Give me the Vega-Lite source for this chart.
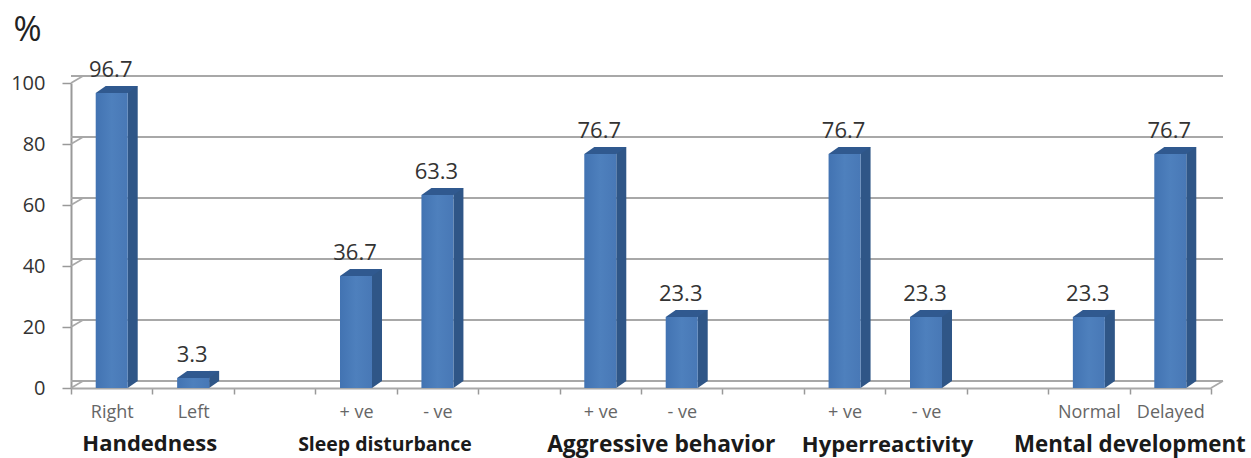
{
"$schema":"https://vega.github.io/schema/vega-lite/v6.json",
"width":1140,"height":305,
"autosize":{"type":"none"},
"padding":{"left":71,"top":83,"right":40,"bottom":70},
"background":"white",
"config":{"view":{"stroke":null},"font":"Open Sans"},
"datasets":{
"bars":[
{"slot":"Handedness|Right","value":96.7},
{"slot":"Handedness|Left","value":3.3},
{"slot":"Sleep disturbance|+ ve","value":36.7},
{"slot":"Sleep disturbance|- ve","value":63.3},
{"slot":"Aggressive behavior|+ ve","value":76.7},
{"slot":"Aggressive behavior|- ve","value":23.3},
{"slot":"Hyperreactivity|+ ve","value":76.7},
{"slot":"Hyperreactivity|- ve","value":23.3},
{"slot":"Mental development|Normal","value":23.3},
{"slot":"Mental development|Delayed","value":76.7}
],
"ticks":[{"tick":0},{"tick":20},{"tick":40},{"tick":60},{"tick":80},{"tick":100}]
},
"resolve":{"scale":{"x":"shared","y":"shared"}},
"encoding":{"y":{"type":"quantitative","scale":{"domain":[0,100],"nice":false},"axis":{"title":"%","titleAngle":0,"titleFontSize":34,"titleFontWeight":"normal","titleColor":"#222","titleX":-44,"titleY":-53,"titleAlign":"center","titleBaseline":"middle","values":[0,20,40,60,80,100],"grid":false,"labelFontSize":20,"labelColor":"#333","labelPadding":17,"tickSize":9,"tickColor":"#999","tickWidth":1.5,"domainColor":"#999","domainWidth":2}}},
"layer":[
{"data":{"name":"ticks"},
 "mark":{"type":"rule","stroke":"#a8a8a8","strokeWidth":2,"xOffset":12,"x2Offset":12,"yOffset":-7,"y2Offset":-7},
 "encoding":{"y":{"field":"tick"}}},
{"data":{"name":"ticks"},
 "mark":{"type":"point","shape":"M0 0L12 -7","size":4,"filled":false,"stroke":"#a8a8a8","strokeWidth":1.6,"opacity":1,"xOffset":-40.7},
 "encoding":{"x":{"datum":"Handedness|Right","type":"nominal"},"y":{"field":"tick"}}},
{"data":{"values":[{"tick":0}]},
 "mark":{"type":"point","shape":"M0 0L12 -7","size":4,"filled":false,"stroke":"#a8a8a8","strokeWidth":1.6,"opacity":1,"xOffset":40.7},
 "encoding":{"x":{"datum":"Mental development|Delayed","type":"nominal"},"y":{"field":"tick"}}},
{"data":{"name":"bars"},
 "mark":{"type":"bar","width":10,"xOffset":21,"yOffset":-7,"y2Offset":-7,"color":"#2f5687"},
 "encoding":{
  "x":{"field":"slot","type":"nominal","sort":null,
   "scale":{"type":"band","paddingInner":0,"paddingOuter":0,"domain":["Handedness|Right","Handedness|Left","Handedness|","Sleep disturbance|+ ve","Sleep disturbance|- ve","Sleep disturbance|","Aggressive behavior|+ ve","Aggressive behavior|- ve","Aggressive behavior|","Hyperreactivity|+ ve","Hyperreactivity|- ve","Hyperreactivity|","Mental development|Normal","Mental development|Delayed"]},
   "axis":{"title":null,"labelExpr":"split(datum.label,'|')[1]","labelAngle":0,"labelAlign":"center","labelBaseline":"middle","labelFontSize":18,"labelColor":"#666","labelPadding":18,"tickSize":6,"tickBand":"extent","tickColor":"#999","tickWidth":1.5,"domainColor":"#a8a8a8","domainWidth":2,"labelOverlap":false}},
  "y":{"field":"value"},
  "y2":{"datum":0}}},
{"data":{"name":"bars"},
 "mark":{"type":"point","shape":"M16 0L26 -7L16 -7Z","size":4,"filled":true,"color":"#2f5687","opacity":1},
 "encoding":{"x":{"field":"slot","type":"nominal"},"y":{"datum":0}}},
{"data":{"name":"bars"},
 "mark":{"type":"bar","width":32,"color":{"gradient":"linear","x1":0,"x2":1,"y1":0,"y2":0,"stops":[{"offset":0,"color":"#4273b2"},{"offset":0.5,"color":"#4e80bd"},{"offset":1,"color":"#4878b6"}]}},
 "encoding":{"x":{"field":"slot","type":"nominal"},"y":{"field":"value"},"y2":{"datum":0}}},
{"data":{"name":"bars"},
 "mark":{"type":"point","shape":"M-16 0L16 0L26 -7L-6 -7Z","size":4,"filled":true,"color":"#30598f","opacity":1},
 "encoding":{"x":{"field":"slot","type":"nominal"},"y":{"field":"value"}}},
{"data":{"name":"bars"},
 "mark":{"type":"text","fontSize":22,"color":"#333","yOffset":-23,"xOffset":-1,"baseline":"middle"},
 "encoding":{"x":{"field":"slot","type":"nominal"},"y":{"field":"value"},"text":{"field":"value","type":"quantitative","format":".1f"}}},
{"data":{"values":[{"group":"Handedness","at":"Handedness|Right"}]},"mark":{"type":"text","fontSize":22,"fontWeight":"bold","color":"#1a1a1a","xOffset":38,"yOffset":56,"baseline":"middle"},
 "encoding":{"x":{"field":"at","type":"nominal"},"y":{"datum":0},"text":{"field":"group"}}},
{"data":{"values":[{"group":"Sleep disturbance","at":"Sleep disturbance|+ ve"}]},"mark":{"type":"text","fontSize":19.5,"fontWeight":"bold","color":"#1a1a1a","xOffset":29,"yOffset":57,"baseline":"middle"},
 "encoding":{"x":{"field":"at","type":"nominal"},"y":{"datum":0},"text":{"field":"group"}}},
{"data":{"values":[{"group":"Aggressive behavior","at":"Aggressive behavior|+ ve"}]},"mark":{"type":"text","fontSize":22.8,"fontWeight":"bold","color":"#1a1a1a","xOffset":61,"yOffset":57,"baseline":"middle"},
 "encoding":{"x":{"field":"at","type":"nominal"},"y":{"datum":0},"text":{"field":"group"}}},
{"data":{"values":[{"group":"Hyperreactivity","at":"Hyperreactivity|+ ve"}]},"mark":{"type":"text","fontSize":22,"fontWeight":"bold","color":"#1a1a1a","xOffset":43,"yOffset":57,"baseline":"middle"},
 "encoding":{"x":{"field":"at","type":"nominal"},"y":{"datum":0},"text":{"field":"group"}}},
{"data":{"values":[{"group":"Mental development","at":"Mental development|Normal"}]},"mark":{"type":"text","fontSize":22.3,"fontWeight":"bold","color":"#1a1a1a","xOffset":41,"yOffset":57,"baseline":"middle"},
 "encoding":{"x":{"field":"at","type":"nominal"},"y":{"datum":0},"text":{"field":"group"}}}
]
}
